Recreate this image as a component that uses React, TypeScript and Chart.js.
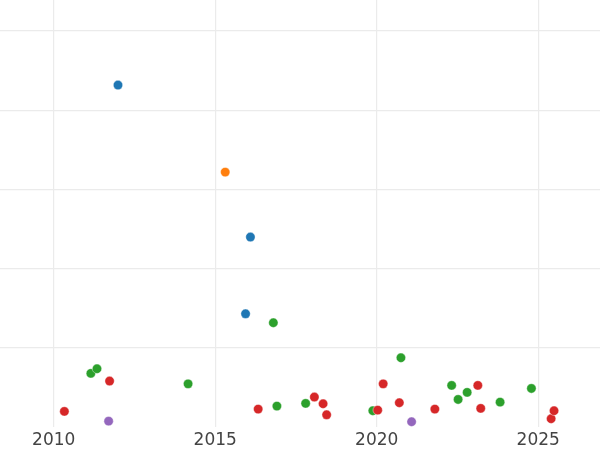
import React, { useEffect, useRef } from "react";
import { Chart, registerables } from "chart.js";

Chart.register(...registerables);

const xTicks = [2010, 2015, 2020, 2025];
const yGrid = [1, 2, 3, 4, 5];

const blueX = [2011.99, 2016.09, 2015.94];
const blueY = [4.317, 2.398, 1.429];

const orangeX = [2015.31];
const orangeY = [3.218];

const greenX = [2011.15, 2011.34, 2014.16, 2016.8, 2016.91, 2017.8, 2019.88, 2020.75, 2022.32, 2022.52, 2022.8, 2023.82, 2024.79];
const greenY = [0.677, 0.735, 0.545, 1.316, 0.264, 0.298, 0.205, 0.874, 0.525, 0.348, 0.437, 0.314, 0.487];

const redX = [2010.33, 2011.73, 2016.33, 2018.07, 2018.34, 2018.45, 2020.03, 2020.2, 2020.7, 2021.8, 2023.13, 2023.22, 2025.4, 2025.49];
const redY = [0.197, 0.58, 0.226, 0.378, 0.293, 0.154, 0.213, 0.545, 0.306, 0.226, 0.525, 0.235, 0.104, 0.205];

const purpleX = [2011.7, 2021.08];
const purpleY = [0.074, 0.066];

const series = [
  { name: "blue", xs: blueX, ys: blueY, color: "#1f77b4" },
  { name: "orange", xs: orangeX, ys: orangeY, color: "#ff7f0e" },
  { name: "green", xs: greenX, ys: greenY, color: "#2ca02c" },
  { name: "red", xs: redX, ys: redY, color: "#d62728" },
  { name: "purple", xs: purpleX, ys: purpleY, color: "#9467bd" },
];

export default function App() {
  const ref = useRef<HTMLCanvasElement | null>(null);
  useEffect(() => {
    if (!ref.current) return;
    const chart = new Chart(ref.current, {
      type: "scatter",
      data: {
        datasets: series.map((s, i) => ({
          label: s.name,
          data: s.xs.map((x, j) => ({ x, y: s.ys[j] })),
          backgroundColor: s.color,
          borderColor: "#ffffff",
          borderWidth: 0.4,
          pointRadius: 4.7,
          order: series.length - i,
        })),
      },
      options: {
        animation: false,
        responsive: true,
        maintainAspectRatio: false,
        layout: { padding: 0, autoPadding: false },
        plugins: { legend: { display: false }, tooltip: { enabled: false } },
        scales: {
          x: {
            type: "linear",
            min: 2008.337,
            max: 2026.913,
            afterBuildTicks: (axis: any) => {
              axis.ticks = xTicks.map((v) => ({ value: v }));
            },
            afterFit: (axis: any) => {
              axis.height = 23;
            },
            grid: { color: "#ebebeb", lineWidth: 1.2, drawTicks: false },
            border: { display: false },
            ticks: {
              padding: 3,
              color: "#444444",
              font: { family: "DejaVu Sans", size: 17 },
              callback: (v: any) => String(v),
            },
          },
          y: {
            type: "linear",
            min: 0,
            max: 5.391,
            afterBuildTicks: (axis: any) => {
              axis.ticks = yGrid.map((v) => ({ value: v }));
            },
            grid: { color: "#ebebeb", lineWidth: 1.2, drawTicks: false },
            border: { display: false },
            ticks: { display: false },
          },
        },
      },
    });
    return () => chart.destroy();
  }, []);
  return (
    <div style={{ position: "fixed", left: 0, top: 0, width: 600, height: 450, background: "#fff" }}>
      <canvas ref={ref} />
    </div>
  );
}
